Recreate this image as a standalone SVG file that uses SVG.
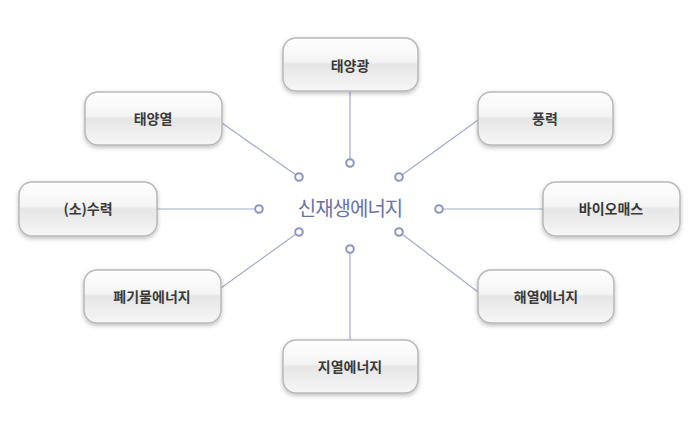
<svg xmlns="http://www.w3.org/2000/svg" width="700" height="433" viewBox="0 0 700 433">
<defs>
<linearGradient id="g" x1="0" y1="0" x2="0" y2="1">
<stop offset="0" stop-color="#ffffff"/><stop offset="0.45" stop-color="#f4f4f4"/><stop offset="0.5" stop-color="#e6e6e6"/><stop offset="1" stop-color="#f6f6f6"/>
</linearGradient>
<filter id="s" x="-10%" y="-10%" width="120%" height="140%"><feDropShadow dx="0" dy="2" stdDeviation="2" flood-color="#000" flood-opacity="0.25"/></filter>
</defs>
<style>
.b{fill:url(#g);stroke:#b8b8b8;stroke-width:1.5;filter:url(#s)}
.t{font-family:"Noto Sans CJK KR","Noto Sans",sans-serif;font-size:14px;font-weight:bold;fill:#3a3a3a;text-anchor:middle}
.l{stroke:#a4aacc;stroke-width:1.2;fill:none}
.c{fill:#fff;stroke:#8e95c4;stroke-width:2}
</style>
<rect width="700" height="433" fill="#fff"/>
<g id="connectors">
<line class="l" x1="350" y1="91" x2="350" y2="159"/>
<line class="l" x1="222" y1="123" x2="296" y2="175"/>
<line class="l" x1="478" y1="120" x2="402" y2="175"/>
<line class="l" x1="157" y1="209" x2="255" y2="209"/>
<line class="l" x1="443" y1="209" x2="543" y2="209"/>
<line class="l" x1="221" y1="288" x2="296" y2="234"/>
<line class="l" x1="478" y1="292" x2="402" y2="234"/>
<line class="l" x1="350" y1="253" x2="350" y2="340"/>
<circle class="c" cx="350" cy="163" r="3.8"/>
<circle class="c" cx="299" cy="177" r="3.8"/>
<circle class="c" cx="399" cy="177" r="3.8"/>
<circle class="c" cx="259" cy="209" r="3.8"/>
<circle class="c" cx="439" cy="209" r="3.8"/>
<circle class="c" cx="299" cy="232" r="3.8"/>
<circle class="c" cx="399" cy="232" r="3.8"/>
<circle class="c" cx="350" cy="249" r="3.8"/>
</g>
<g id="center"><text x="350" y="216" font-family="'Noto Sans CJK KR',sans-serif" font-size="20" fill="#6a73a8" text-anchor="middle" letter-spacing="-1">신재생에너지</text></g>
<g id="n1"><rect class="b" x="283" y="38" width="135" height="53" rx="13"/><text class="t" x="350" y="71">태양광</text></g>
<g id="n2"><rect class="b" x="85" y="92" width="137" height="53" rx="13"/><text class="t" x="153" y="124">태양열</text></g>
<g id="n3"><rect class="b" x="19" y="182" width="138" height="54" rx="13"/><text class="t" x="88" y="214">(소)수력</text></g>
<g id="n4"><rect class="b" x="84" y="270" width="137" height="53" rx="13"/><text class="t" x="152" y="302">폐기물에너지</text></g>
<g id="n5"><rect class="b" x="283" y="340" width="135" height="53" rx="13"/><text class="t" x="350" y="372">지열에너지</text></g>
<g id="n6"><rect class="b" x="478" y="92" width="135" height="53" rx="13"/><text class="t" x="545" y="124">풍력</text></g>
<g id="n7"><rect class="b" x="543" y="182" width="137" height="54" rx="13"/><text class="t" x="611" y="214">바이오매스</text></g>
<g id="n8"><rect class="b" x="478" y="270" width="136" height="53" rx="13"/><text class="t" x="546" y="302">해열에너지</text></g>
</svg>
